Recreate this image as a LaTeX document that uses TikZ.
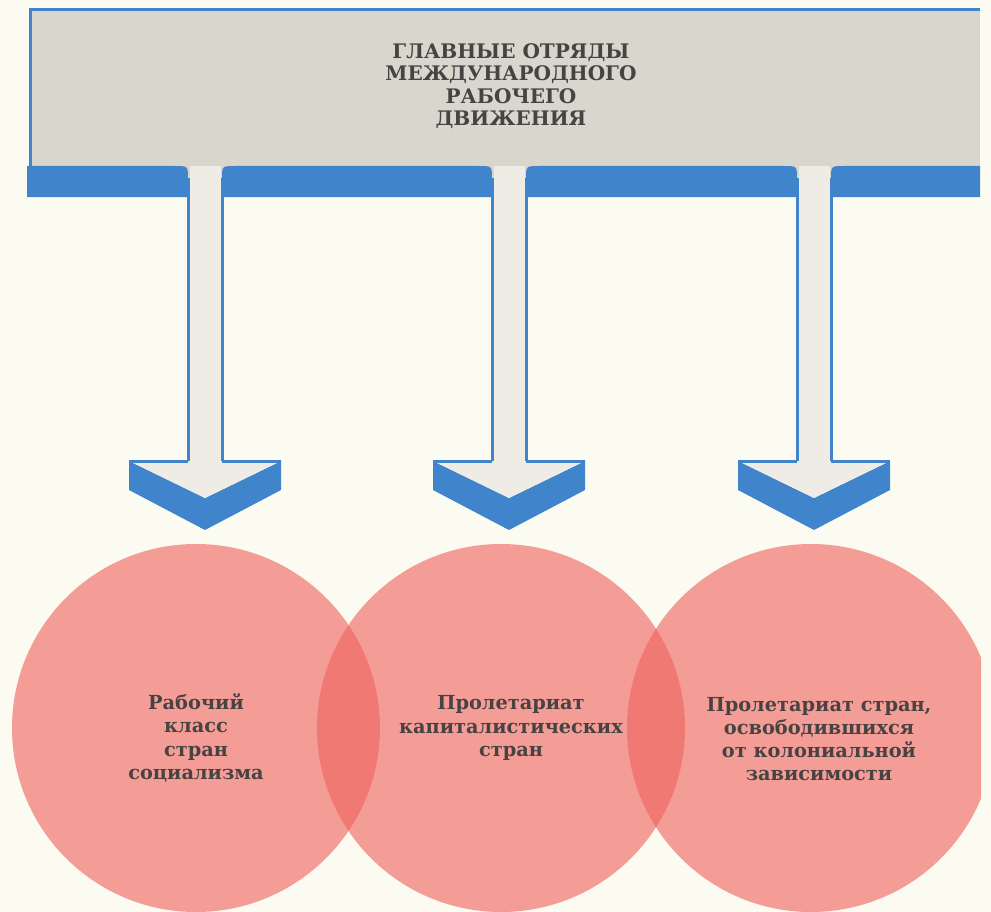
\documentclass[tikz,border=0pt]{standalone}
\usepackage{fontspec}
\usepackage{tikz}
\setmainfont{DejaVu Serif}
\usetikzlibrary{positioning}

\definecolor{paper}{RGB}{252,251,242}
\definecolor{panel}{RGB}{217,214,206}
\definecolor{shaftfill}{RGB}{238,236,229}
\definecolor{bandblue}{RGB}{64,133,204}
\definecolor{discred}{RGB}{240,100,95}
\definecolor{ink}{RGB}{72,66,66}

\begin{document}
\begin{tikzpicture}[x=0.2mm,y=-0.2mm]
      \tikzstyle{band}=[fill=bandblue]
      \tikzstyle{rim}=[draw=bandblue,line width=0.6mm]
      \tikzstyle{face}=[fill=shaftfill]
      \tikzstyle{disc}=[circle,minimum size=73.6mm,inner sep=0pt,fill=discred,fill opacity=0.62]
      \tikzstyle{caption}=[align=center,text=ink,font=\bfseries\fontsize{11}{13.2}\selectfont]
      % Page
      \fill[paper] (0,0) rectangle (991,912);
      \useasboundingbox (0,0) rectangle (991,912);
      % Banner
      \fill[panel] (30,10) rectangle (980,180);
      \draw[rim] (980,10) -- (30,10) -- (30,166);
      \node (head) at (511,86) [caption,font=\bfseries\fontsize{11.4}{12.8}\selectfont] {ГЛАВНЫЕ ОТРЯДЫ\\МЕЖДУНАРОДНОГО\\РАБОЧЕГО\\ДВИЖЕНИЯ};
      % Blue underside of the banner, cut by the three shafts
      \fill[band] (27,197) -- (27,166) -- (175,166) .. controls (188,166) .. (188,179) -- (188,197) -- cycle;
      \fill[band] (222,197) -- (222,179) .. controls (222,166) .. (235,166) -- (479,166) .. controls (492,166) .. (492,179) -- (492,197) -- cycle;
      \fill[band] (526,197) -- (526,179) .. controls (526,166) .. (539,166) -- (784,166) .. controls (797,166) .. (797,179) -- (797,197) -- cycle;
      \fill[band] (831,197) -- (831,179) .. controls (831,166) .. (844,166) -- (980,166) -- (980,197) -- cycle;
      % Shafts and arrow heads
      \foreach \c in {205,509,814} {
        \fill[face] (\c-15.5,166) rectangle (\c+15.5,461);
        \draw[rim] (\c-17,178) -- (\c-17,461);
        \draw[rim] (\c+17,178) -- (\c+17,461);
        % sides of the head
        \fill[band] (\c-76,461) -- (\c,498) -- (\c+76,461) -- (\c+76,490) -- (\c,530) -- (\c-76,490) -- cycle;
        % top of the head
        \fill[face] (\c-76,461) -- (\c+76,461) -- (\c,498) -- cycle;
        \fill[face] (\c-15.5,455) rectangle (\c+15.5,462);
        \draw[rim] (\c-76,461) -- (\c-17,461);
        \draw[rim] (\c+17,461) -- (\c+76,461);
      }
      % Discs
      \begin{scope}
        \clip (0,0) rectangle (981,912);
        \node (soc) at (196,728) [disc] {};
        \node (cap) at (501,728) [disc] {};
        \node (col) at (811,728) [disc] {};
      \end{scope}
      \node (soctext) at ([shift={(0,10)}]soc.center) [caption] {Рабочий\\класс\\стран\\социализма};
      \node (captext) at ([shift={(10,0)}]cap.center) [caption] {Пролетариат\\капиталистических\\стран};
      \node (coltext) at ([shift={(8,11)}]col.center) [caption] {Пролетариат стран,\\освободившихся\\от колониальной\\зависимости};
    \end{tikzpicture}
\end{document}
